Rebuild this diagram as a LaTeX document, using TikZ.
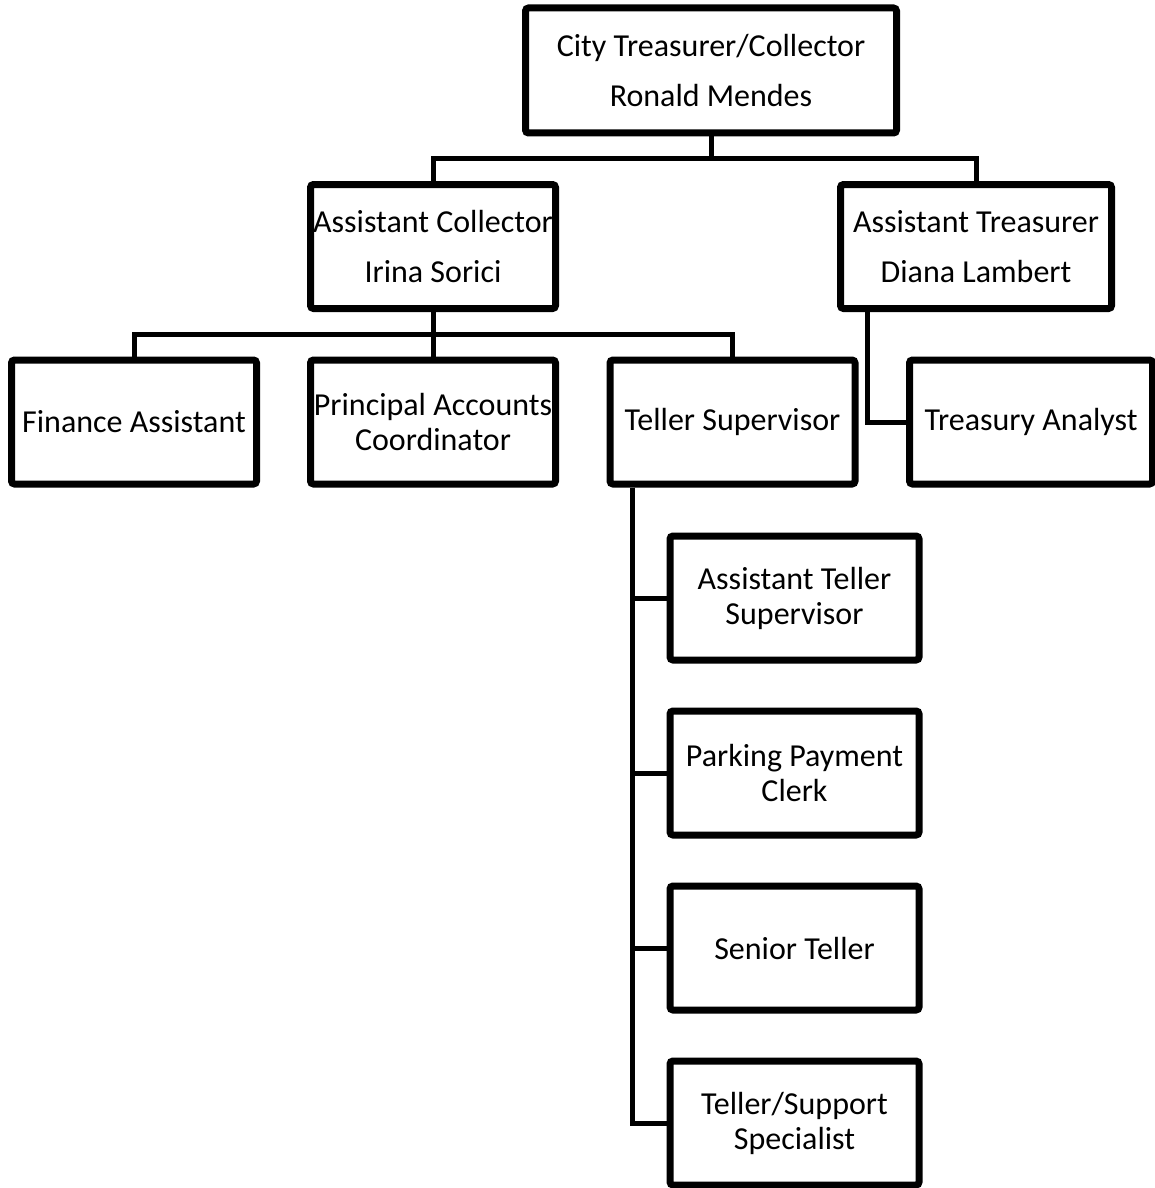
\documentclass[tikz,border=0pt]{standalone}
\usepackage{fontspec}
\setmainfont{Carlito}
\usepackage{tikz}
\usetikzlibrary{shadows}

\begin{document}
\begin{tikzpicture}[x=1pt, y=-1pt,
        box/.style={draw, line width=7pt, rounded corners=3pt, fill=white, align=center,
            minimum width=245pt, minimum height=124pt, inner sep=0pt,
            font=\fontsize{32}{35}\selectfont,
            drop shadow={shadow xshift=2pt, shadow yshift=-3pt, opacity=0.3}},
        link/.style={line width=5pt}]
        \useasboundingbox (0,0) rectangle (1154,1188);
        \node[box, minimum width=371pt, minimum height=125pt](top) at (711,70.5){City Treasurer/Collector\\[15pt]Ronald Mendes};
        \node[box](asscol) at (433,246.5){Assistant Collector\\[15pt]Irina Sorici};
        \node[box, minimum width=271pt](asstreas) at (976,246.5){Assistant Treasurer\\[15pt]Diana Lambert};
        \node[box](finance) at (134,422){Finance Assistant};
        \node[box](principal) at (433,422){Principal Accounts\\Coordinator};
        \node[box](tellsup) at (732.5,422){Teller Supervisor};
        \node[box, minimum width=243pt](treasury) at (1031,422){Treasury Analyst};
        \node[box, minimum width=249pt](asstell) at (794.5,598){Assistant Teller\\Supervisor};
        \node[box, minimum width=249pt](parking) at (794.5,773){Parking Payment\\Clerk};
        \node[box, minimum width=249pt](senior) at (794.5,948){Senior Teller};
        \node[box, minimum width=249pt](support) at (794.5,1123){Teller/Support\\Specialist};
        \draw[link](top.south) -- ++(0,22) -| (asscol.north);
        \draw[link](top.south) -- ++(0,22) -| (asstreas.north);
        \draw[link](asscol.south) -- ++(0,22) -| (finance.north);
        \draw[link](asscol.south) -- (principal.north);
        \draw[link](asscol.south) -- ++(0,22) -| (tellsup.north);
        \draw[link]([xshift=30pt]asstreas.south west) |- (treasury.west);
        \draw[link]([xshift=26pt]tellsup.south west) |- (asstell.west);
        \draw[link]([xshift=26pt]tellsup.south west) |- (parking.west);
        \draw[link]([xshift=26pt]tellsup.south west) |- (senior.west);
        \draw[link]([xshift=26pt]tellsup.south west) |- (support.west);
    \end{tikzpicture}
\end{document}
